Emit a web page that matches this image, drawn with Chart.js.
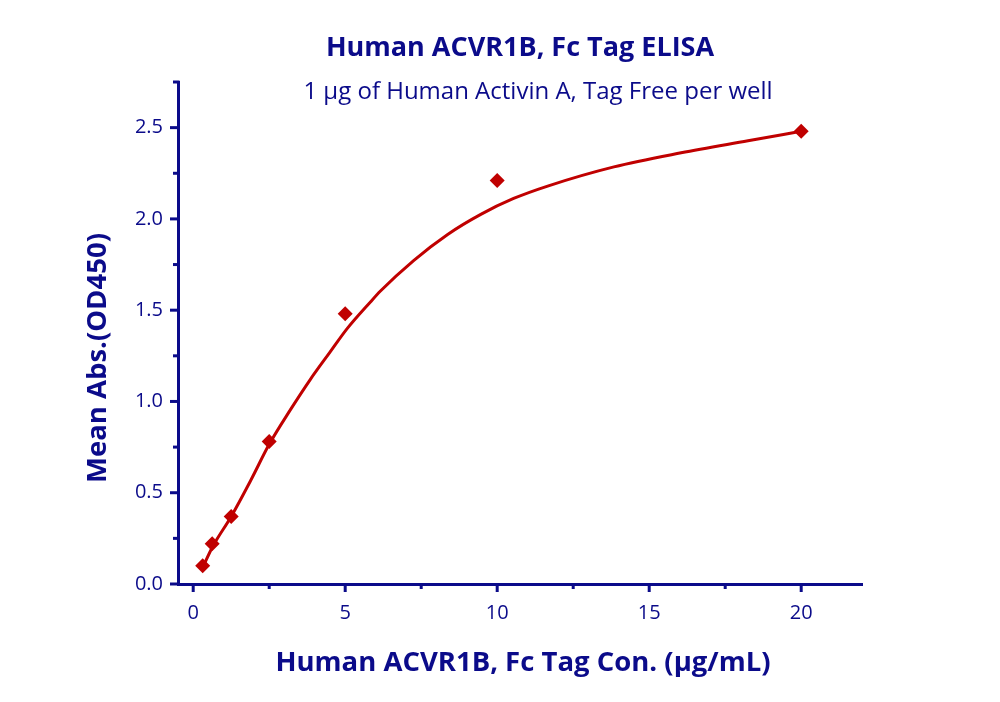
<!DOCTYPE html>
<html>
<head>
<meta charset="utf-8">
<script src="https://cdn.jsdelivr.net/npm/chart.js@4.4.0/dist/chart.umd.min.js"></script>
<style>
html,body{margin:0;padding:0;background:#fff;}
#wrap{width:1000px;height:702px;position:relative;}
</style>
</head>
<body>
<div id="wrap"><canvas id="c" width="1000" height="702"></canvas></div>
<script>
// Measured points
const concentrations = [0.3125, 0.625, 1.25, 2.5, 5, 10, 20];
const meanAbs = [0.10, 0.22, 0.37, 0.78, 1.48, 2.21, 2.48];
// Fitted curve
const curveX = [0.3125, 0.625, 1.25, 1.9, 2.5, 3.2, 3.85, 4.5, 5.07, 5.83, 6.16, 7.25, 8.37, 9.46, 10.54, 11.66, 13.84, 16.05, 18.25, 20];
const curveY = [0.09, 0.20, 0.37, 0.57, 0.765, 0.955, 1.12, 1.27, 1.40, 1.545, 1.605, 1.772, 1.915, 2.025, 2.112, 2.18, 2.285, 2.362, 2.428, 2.48];
const xMajorTicks = [0, 5, 10, 15, 20];
const xMinorTicks = [2.5, 7.5, 12.5, 17.5];
const yMajorTicks = [0, 0.5, 1.0, 1.5, 2.0, 2.5];
const yMinorTicks = [0.25, 0.75, 1.25, 1.75, 2.25];

const titleText = 'Human ACVR1B, Fc Tag ELISA';
const subtitleText = '1 \u00b5g of Human Activin A, Tag Free per well';
const xTitle = 'Human ACVR1B, Fc Tag Con. (\u00b5g/mL)';
const yTitle = 'Mean Abs.(OD450)';

const NAVY = '#0b0b8a';
const RED = '#c00000';
const FONT = '"Open Sans", Lato, sans-serif';

const decor = {
  id: 'decor',
  afterDraw(chart) {
    const ctx = chart.ctx;
    const xs = chart.scales.x, ys = chart.scales.y;
    const a = chart.chartArea;
    ctx.save();
    ctx.strokeStyle = NAVY;
    ctx.lineWidth = 3;
    ctx.lineCap = 'butt';
    xMajorTicks.forEach(v => { const p = xs.getPixelForValue(v); ctx.beginPath(); ctx.moveTo(p, a.bottom); ctx.lineTo(p, a.bottom + 8); ctx.stroke(); });
    xMinorTicks.forEach(v => { const p = xs.getPixelForValue(v); ctx.beginPath(); ctx.moveTo(p, a.bottom); ctx.lineTo(p, a.bottom + 5); ctx.stroke(); });
    yMajorTicks.forEach(v => { const p = ys.getPixelForValue(v); ctx.beginPath(); ctx.moveTo(a.left, p); ctx.lineTo(a.left - 8, p); ctx.stroke(); });
    yMinorTicks.forEach(v => { const p = ys.getPixelForValue(v); ctx.beginPath(); ctx.moveTo(a.left, p); ctx.lineTo(a.left - 5, p); ctx.stroke(); });
    ctx.beginPath(); ctx.moveTo(a.left + 1.5, a.top); ctx.lineTo(a.left - 5, a.top); ctx.stroke();

    ctx.fillStyle = NAVY;
    ctx.textAlign = 'center';
    ctx.textBaseline = 'middle';
    ctx.font = 'bold 27px ' + FONT;
    ctx.fillText(titleText, 520, 48);
    ctx.font = '24px ' + FONT;
    ctx.fillText(subtitleText, 538, 92);
    ctx.font = 'bold 27.5px ' + FONT;
    ctx.fillText(xTitle, 523, 663);
    ctx.translate(98, 358);
    ctx.rotate(-Math.PI / 2);
    ctx.fillText(yTitle, 0, 0);
    ctx.restore();
  }
};

new Chart(document.getElementById('c'), {
  type: 'scatter',
  data: {
    datasets: [
      {
        label: 'Fit',
        type: 'line',
        data: curveX.map((x, i) => ({x, y: curveY[i]})),
        borderColor: RED,
        borderWidth: 3,
        pointRadius: 0,
        cubicInterpolationMode: 'monotone',
        fill: false,
        order: 2
      },
      {
        label: 'Data',
        data: concentrations.map((x, i) => ({x, y: meanAbs[i]})),
        pointStyle: 'rectRot',
        pointRadius: 7.5,
        pointHoverRadius: 7.5,
        backgroundColor: RED,
        borderColor: RED,
        borderWidth: 0,
        order: 1
      }
    ]
  },
  options: {
    responsive: false,
    animation: false,
    devicePixelRatio: 1,
    layout: { padding: { left: 0, right: 138, top: 82, bottom: 0 } },
    plugins: { legend: { display: false }, tooltip: { enabled: false }, title: { display: false } },
    scales: {
      x: {
        type: 'linear',
        min: -0.5, max: 22,
        afterFit(s) { s.height = 118; },
        afterBuildTicks(s) { s.ticks = xMajorTicks.map(v => ({value: v})); },
        grid: { display: false, drawTicks: false },
        border: { display: true, color: NAVY, width: 3 },
        ticks: { color: NAVY, font: { family: FONT, size: 20 }, padding: 17, callback: v => String(v) }
      },
      y: {
        type: 'linear',
        min: 0, max: 2.75,
        afterFit(s) { s.width = 178; },
        afterBuildTicks(s) { s.ticks = yMajorTicks.map(v => ({value: v})); },
        grid: { display: false, drawTicks: false },
        border: { display: true, color: NAVY, width: 3 },
        ticks: { color: NAVY, font: { family: FONT, size: 20 }, padding: 15, callback: v => Number(v).toFixed(1) }
      }
    }
  },
  plugins: [decor]
});
</script>
</body>
</html>
